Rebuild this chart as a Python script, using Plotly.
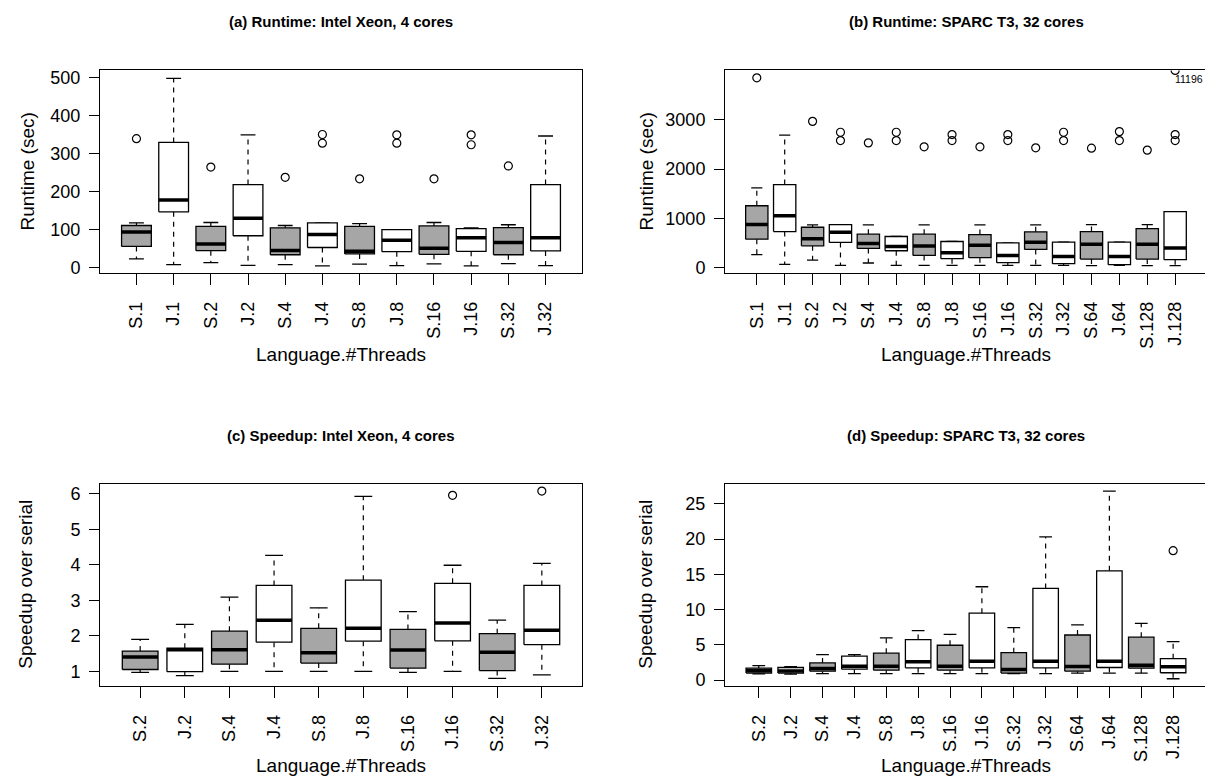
import plotly.graph_objects as go

# ---------------- data ----------------
cats_a = ["S.1", "J.1", "S.2", "J.2", "S.4", "J.4", "S.8", "J.8", "S.16", "J.16", "S.32", "J.32"]
a_low = [22, 7, 12, 5, 7, 3.5, 8, 4.4, 8.7, 3.5, 9.6, 4.4]
a_q1 = [55, 146, 43.6, 83, 33, 52, 35, 41, 34, 42, 33, 43]
a_med = [93, 177, 61, 129, 44, 86, 42, 71, 50, 78, 65, 78]
a_q3 = [110, 329, 108, 218, 104, 117, 108, 99, 109, 102, 104.5, 218]
a_up = [117, 498, 118, 349, 110, 117, 115, 99, 118, 104, 112, 346]
a_out = [[339], [], [264], [], [237], [350, 327], [233], [349, 327], [233], [349, 323], [267], []]

cats_b = ["S.1", "J.1", "S.2", "J.2", "S.4", "J.4", "S.8", "J.8", "S.16", "J.16",
          "S.32", "J.32", "S.64", "J.64", "S.128", "J.128"]
b_low = [262, 67, 154, 47, 94, 47, 47, 47, 47, 47, 47, 47, 40, 47, 40, 40]
b_q1 = [577, 731, 443, 510, 389, 342, 248, 181, 201, 101, 369, 80, 174, 60, 174, 161]
b_med = [872, 1054, 584, 718, 490, 430, 436, 302, 456, 248, 517, 228, 476, 228, 476, 396]
b_q3 = [1255, 1685, 819, 872, 678, 631, 678, 530, 671, 503, 725, 517, 731, 517, 792, 1134]
b_up = [1617, 2685, 866, 872, 866, 631, 866, 530, 866, 503, 866, 517, 872, 517, 872, 1134]
b_out = [[3850], [], [2966], [2745, 2577], [2530], [2745, 2577], [2450], [2698, 2577],
         [2450], [2698, 2577], [2430], [2745, 2577], [2423], [2758, 2577], [2383],
         [2698, 2577, 11196]]

cats_c = ["S.2", "J.2", "S.4", "J.4", "S.8", "J.8", "S.16", "J.16", "S.32", "J.32"]
c_low = [0.97, 0.88, 1.0, 1.0, 1.0, 1.0, 0.97, 1.0, 0.80, 0.90]
c_q1 = [1.05, 0.99, 1.20, 1.82, 1.23, 1.85, 1.09, 1.86, 1.02, 1.75]
c_med = [1.40, 1.61, 1.61, 2.44, 1.52, 2.21, 1.60, 2.36, 1.54, 2.16]
c_q3 = [1.57, 1.65, 2.13, 3.42, 2.21, 3.57, 2.18, 3.48, 2.06, 3.42]
c_up = [1.90, 2.32, 3.09, 4.27, 2.79, 5.93, 2.68, 3.99, 2.44, 4.04]
c_out = [[], [], [], [], [], [], [], [5.96], [], [6.08]]

cats_d = ["S.2", "J.2", "S.4", "J.4", "S.8", "J.8", "S.16", "J.16", "S.32", "J.32",
          "S.64", "J.64", "S.128", "J.128"]
d_low = [0.9, 0.85, 0.94, 0.94, 0.94, 0.94, 0.94, 0.94, 0.94, 0.94, 1.0, 1.0, 1.0, 0.2]
d_q1 = [1.0, 1.0, 1.27, 1.56, 1.42, 1.75, 1.42, 1.75, 1.0, 1.75, 1.27, 1.8, 1.7, 1.05]
d_med = [1.35, 1.3, 1.65, 1.98, 1.98, 2.6, 1.98, 2.7, 1.5, 2.7, 1.95, 2.7, 2.1, 1.9]
d_q3 = [1.7, 1.8, 2.45, 3.4, 3.82, 5.75, 4.95, 9.5, 3.9, 13.0, 6.4, 15.5, 6.1, 3.05]
d_up = [2.05, 1.9, 3.63, 3.63, 6.0, 7.03, 6.5, 13.24, 7.45, 20.3, 7.85, 26.8, 8.05, 5.45]
d_out = [[], [], [], [], [], [], [], [], [], [], [], [], [], [18.35]]

titles = ["(a) Runtime: Intel Xeon, 4 cores", "(b) Runtime: SPARC T3, 32 cores",
          "(c) Speedup: Intel Xeon, 4 cores", "(d) Speedup: SPARC T3, 32 cores"]
ylabels = ["Runtime (sec)", "Runtime (sec)", "Speedup over serial", "Speedup over serial"]
xlabel = "Language.#Threads"

# ---------------- layout geometry (pixels) ----------------
W, H = 1205, 782
FONT = "Liberation Sans, Arial, Helvetica, sans-serif"
GRAY = "#A6A6A6"

panels = [
    dict(cats=cats_a, low=a_low, q1=a_q1, med=a_med, q3=a_q3, up=a_up, out=a_out,
         px=(100, 582), py=(69, 273), xr=[0.02, 12.98], yr=[-14, 519],
         yt=[0, 100, 200, 300, 400, 500], right=True, ylx=73),
    dict(cats=cats_b, low=b_low, q1=b_q1, med=b_med, q3=b_q3, up=b_up, out=b_out,
         px=(725, 1205), py=(69, 273), xr=[-0.14, 17.07], yr=[-100, 4000],
         yt=[0, 1000, 2000, 3000], right=False, ylx=79),
    dict(cats=cats_c, low=c_low, q1=c_q1, med=c_med, q3=c_q3, up=c_up, out=c_out,
         px=(100, 582), py=(486, 690), xr=[0.1, 10.9], yr=[0.59, 6.29],
         yt=[1, 2, 3, 4, 5, 6], right=True, ylx=74),
    dict(cats=cats_d, low=d_low, q1=d_q1, med=d_med, q3=d_q3, up=d_up, out=d_out,
         px=(725, 1205), py=(486, 690), xr=[-0.06, 15.0], yr=[-0.8, 27.85],
         yt=[0, 5, 10, 15, 20, 25], right=False, ylx=79),
]
centers_x = [341, 966, 341, 966]
title_y = [20, 20, 437, 437]
xlab_y = [356, 356, 770, 770]

fig = go.Figure()
layout = dict(width=W, height=H, margin=dict(l=0, r=0, t=0, b=0),
              paper_bgcolor="white", plot_bgcolor="white", showlegend=False,
              font=dict(family=FONT, color="black"))
annotations = []

HW = 0.4   # half box width
CW = 0.2   # half staple width

for k, p in enumerate(panels):
    sfx = "" if k == 0 else str(k + 1)
    xa, ya = "x" + sfx, "y" + sfx
    ytop = p["yr"][1]
    for i, cat in enumerate(p["cats"]):
        xc = i + 1
        fill = GRAY if cat.startswith("S") else "white"
        # whiskers (dashed)
        fig.add_trace(go.Scatter(
            x=[xc, xc, None, xc, xc],
            y=[p["q3"][i], p["up"][i], None, p["q1"][i], p["low"][i]],
            mode="lines", line=dict(color="black", width=1.2, dash="5px,5px"),
            xaxis=xa, yaxis=ya, hoverinfo="skip"))
        # staples
        fig.add_trace(go.Scatter(
            x=[xc - CW, xc + CW, None, xc - CW, xc + CW],
            y=[p["up"][i], p["up"][i], None, p["low"][i], p["low"][i]],
            mode="lines", line=dict(color="black", width=1.3),
            xaxis=xa, yaxis=ya, hoverinfo="skip"))
        # box
        fig.add_trace(go.Scatter(
            x=[xc - HW, xc + HW, xc + HW, xc - HW, xc - HW],
            y=[p["q1"][i], p["q1"][i], p["q3"][i], p["q3"][i], p["q1"][i]],
            mode="lines", fill="toself", fillcolor=fill,
            line=dict(color="black", width=1.3),
            xaxis=xa, yaxis=ya, hoverinfo="skip"))
        # median
        fig.add_trace(go.Scatter(
            x=[xc - HW, xc + HW], y=[p["med"][i], p["med"][i]],
            mode="lines", line=dict(color="black", width=3.5),
            xaxis=xa, yaxis=ya, hoverinfo="skip"))
        # outliers
        if p["out"][i]:
            shown = [min(v, ytop) for v in p["out"][i]]
            fig.add_trace(go.Scatter(
                x=[xc] * len(shown), y=shown, mode="markers",
                marker=dict(symbol="circle-open", size=8, color="black",
                            line=dict(width=1.2)),
                xaxis=xa, yaxis=ya, hoverinfo="skip"))
            for v in p["out"][i]:
                if v > ytop:
                    annotations.append(dict(
                        x=xc + 0.5, y=ytop - 0.044 * (ytop - p["yr"][0]),
                        xref=xa, yref=ya, text=str(v), showarrow=False,
                        xanchor="center", yanchor="middle", borderpad=0,
                        font=dict(size=10.5, family=FONT)))

    x0, x1 = p["px"]
    y0, y1 = p["py"]
    layout["xaxis" + sfx] = dict(
        domain=[x0 / W, x1 / W], range=p["xr"], anchor=ya,
        tickmode="array", tickvals=list(range(1, len(p["cats"]) + 1)),
        ticktext=p["cats"], tickangle=-90, ticks="outside", ticklen=11,
        tickwidth=1, tickcolor="black", showline=True, mirror=True,
        linecolor="black", linewidth=1, showgrid=False, zeroline=False,
        tickfont=dict(size=18, family=FONT), ticklabelstandoff=10)
    layout["yaxis" + sfx] = dict(
        domain=[1 - y1 / H, 1 - y0 / H], range=p["yr"], anchor=xa,
        tickmode="array", tickvals=p["yt"], ticks="outside", ticklen=10,
        tickwidth=1, tickcolor="black", showline=True, mirror=p["right"],
        linecolor="black", linewidth=1, showgrid=False, zeroline=False,
        tickfont=dict(size=18, family=FONT), ticklabelstandoff=5)

    # panel title
    annotations.append(dict(x=centers_x[k] / W, y=1 - title_y[k] / H, xref="paper", yref="paper",
                            text="<b>" + titles[k] + "</b>", showarrow=False,
                            xanchor="center", yanchor="middle",
                            font=dict(size=15, family=FONT)))
    # x label
    annotations.append(dict(x=centers_x[k] / W, y=1 - xlab_y[k] / H, xref="paper", yref="paper",
                            text=xlabel, showarrow=False, xanchor="center", yanchor="middle",
                            font=dict(size=19, family=FONT)))
    # y label
    annotations.append(dict(x=(x0 - p["ylx"]) / W, y=1 - ((y0 + y1) / 2) / H,
                            xref="paper", yref="paper",
                            text=ylabels[k], showarrow=False, textangle=-90,
                            xanchor="center", yanchor="middle",
                            font=dict(size=19, family=FONT)))

layout["annotations"] = annotations
fig.update_layout(**layout)
fig.write_html("out.html",
               config={"displayModeBar": False, "staticPlot": True},
               post_script="document.body.style.margin='0px';document.body.style.overflow='hidden';")
